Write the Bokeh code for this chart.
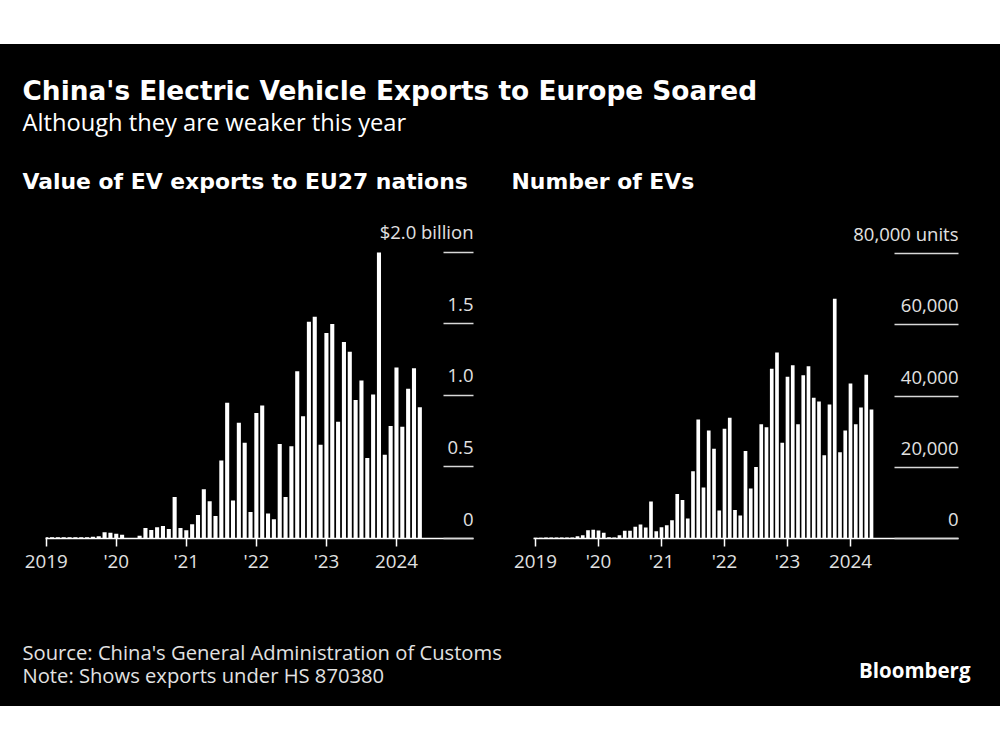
from bokeh.plotting import figure
from bokeh.layouts import column, row, Spacer
from bokeh.models import Range1d, FixedTicker, LinearAxis, Label, LabelSet, ColumnDataSource
from bokeh.embed import file_html
from bokeh.resources import INLINE
from bokeh.core.properties import value

# ---------------- data ----------------
start_year = 2019
n_months = 65  # Jan 2019 .. May 2024
month_labels = [f"{start_year + i // 12}-{i % 12 + 1:02d}" for i in range(n_months)]
month_idx = list(range(n_months))

value_bn = [
    0.008, 0.008, 0.008, 0.008, 0.008, 0.008, 0.008, 0.009, 0.012, 0.016, 0.044, 0.040,
    0.033, 0.026, 0.003, 0.003, 0.020, 0.074, 0.060, 0.079, 0.088, 0.067, 0.290, 0.074,
    0.058, 0.100, 0.165, 0.344, 0.260, 0.158, 0.545, 0.950, 0.265, 0.810, 0.670, 0.186,
    0.877, 0.930, 0.174, 0.135, 0.660, 0.290, 0.645, 1.170, 0.854, 1.516, 1.550, 0.655,
    1.437, 1.500, 0.817, 1.374, 1.305, 0.968, 1.105, 0.562, 1.007, 2.000, 0.585, 0.787,
    1.195, 0.782, 1.047, 1.190, 0.917,
]
units = [
    200, 200, 250, 250, 250, 250, 300, 300, 650, 930, 2340, 2430,
    2240, 1590, 370, 280, 930, 2150, 2150, 3270, 3930, 3080, 10370, 2060,
    3180, 3740, 5140, 12520, 10840, 5610, 18900, 33400, 14300, 30370, 25230, 7850,
    30840, 33930, 8040, 6450, 24580, 14020, 20090, 32060, 31220, 47660, 52240, 26920,
    45420, 48690, 32060, 45890, 48410, 39530, 38500, 23360, 37660, 67380, 24200, 30370,
    43550, 32060, 36820, 45980, 36260,
]

x_ticks = [0, 12, 24, 36, 48, 60]
x_tick_labels = ["2019", "'20", "'21", "'22", "'23", "2024"]
val_ticks = [0, 0.5, 1.0, 1.5, 2.0]
val_tick_labels = ["0", "0.5", "1.0", "1.5", "$2.0 billion"]
unit_ticks = [0, 20000, 40000, 60000, 80000]
unit_tick_labels = ["0", "20,000", "40,000", "60,000", "80,000 units"]

title = "China's Electric Vehicle Exports to Europe Soared"
subtitle = "Although they are weaker this year"
panel1 = "Value of EV exports to EU27 nations"
panel2 = "Number of EVs"
source = "Source: China's General Administration of Customs"
note = "Note: Shows exports under HS 870380"
brand = "Bloomberg"

# ---------------- styling ----------------
BG = "#000000"
FG = "#ffffff"
LBL = "#e2e2e2"
GRID = "#d8d8d8"
BODY_FONT = "Open Sans"
BOLD_FONT = "DejaVu Sans"
W = 1000


def blank(height, width=W):
    p = figure(width=width, height=height, x_range=Range1d(0, 1), y_range=Range1d(0, 1),
               x_axis_location=None, y_axis_location=None, toolbar_location=None,
               output_backend="svg", min_border=0)
    p.background_fill_color = BG
    p.border_fill_color = BG
    p.outline_line_color = None
    p.grid.visible = False
    return p


def txt(p, x, y, text, size, font, bold=False, color=FG, align="left"):
    p.add_layout(Label(x=x, y=y, x_units="screen", y_units="screen", text=text,
                       text_font=font, text_font_size=f"{size}px",
                       text_font_style="bold" if bold else "normal",
                       text_color=color, text_align=align, text_baseline="alphabetic"))


# header: page y 44..200
header = blank(156)
txt(header, 22, 110, title, 26.4, BOLD_FONT, bold=True)
txt(header, 22, 79, subtitle, 23.7, BODY_FONT)
txt(header, 22, 19.5, panel1, 21.9, BOLD_FONT, bold=True)
txt(header, 511, 19.5, panel2, 21.9, BOLD_FONT, bold=True)


def chart(values, y_ticks, y_labels, width, mb_left, mb_right, mb_bottom, frame_h,
          x_start, px_per_month, y_end, tick_len, label_gap):
    frame_w = width - mb_left - mb_right
    x_end = x_start + frame_w / px_per_month
    p = figure(width=width, height=420, x_range=Range1d(x_start, x_end),
               y_range=Range1d(0, y_end), y_axis_location=None, x_axis_location="below",
               toolbar_location=None, output_backend="svg",
               min_border_left=mb_left, min_border_right=mb_right,
               min_border_top=420 - mb_bottom - frame_h, min_border_bottom=mb_bottom)
    p.background_fill_color = BG
    p.border_fill_color = BG
    p.outline_line_color = None
    p.grid.visible = False

    src = ColumnDataSource(dict(x=month_idx, top=values, month=month_labels))
    p.vbar(x="x", top="top", width=0.7, bottom=0, source=src,
           fill_color=FG, line_color=None)

    xa = p.xaxis[0]
    xa.ticker = FixedTicker(ticks=x_ticks)
    xa.major_label_overrides = {t: l for t, l in zip(x_ticks, x_tick_labels)}
    xa.minor_tick_line_color = None
    xa.major_tick_out = 8
    xa.major_tick_in = 0
    xa.major_tick_line_color = FG
    xa.major_tick_line_width = 1.5
    xa.axis_line_color = FG
    xa.axis_line_width = 1.5
    xa.major_label_text_font = BODY_FONT
    xa.major_label_text_font_size = "18.8px"
    xa.major_label_text_color = LBL
    xa.major_label_standoff = 1

    # short gridlines on the right, drawn as inward axis ticks
    ya = LinearAxis(ticker=FixedTicker(ticks=y_ticks))
    ya.axis_line_color = None
    ya.minor_tick_line_color = None
    ya.major_tick_in = tick_len
    ya.major_tick_out = 0
    ya.major_tick_line_color = GRID
    ya.major_tick_line_width = 1.5
    ya.major_label_overrides = {t: "" for t in y_ticks}
    ya.major_label_standoff = 0
    p.add_layout(ya, "right")

    lsrc = ColumnDataSource(dict(x=[frame_w] * len(y_ticks), y=y_ticks, text=y_labels))
    p.add_layout(LabelSet(x="x", y="y", text="text", source=lsrc, x_units="screen",
                          y_units="data", y_offset=label_gap, text_align="right",
                          text_baseline="alphabetic", text_font=value(BODY_FONT),
                          text_font_size="18.5px", text_color=LBL))
    return p


left = chart(value_bn, val_ticks, val_tick_labels, width=496, mb_left=45, mb_right=23,
             mb_bottom=80, frame_h=328, x_start=-0.12, px_per_month=5.838,
             y_end=328 / 143.9, tick_len=30, label_gap=13)
right = chart(units, unit_ticks, unit_tick_labels, width=504, mb_left=37, mb_right=42,
              mb_bottom=82, frame_h=326, x_start=-0.38, px_per_month=5.25,
              y_end=326 * 80000 / 284.8, tick_len=64, label_gap=12.5)

# footer: page y 620..706
footer = blank(86)
txt(footer, 22, 55, source, 20.2, BODY_FONT, color=LBL)
txt(footer, 22, 32, note, 20.2, BODY_FONT, color=LBL)
txt(footer, 970, 37, brand, 20.5, BODY_FONT, bold=True, align="right")

body = column(header, row(left, right, styles={"background-color": BG}), footer,
              styles={"background-color": BG})
layout = column(Spacer(width=W, height=44), body)

open("out.html", "w").write(file_html(layout, INLINE))
